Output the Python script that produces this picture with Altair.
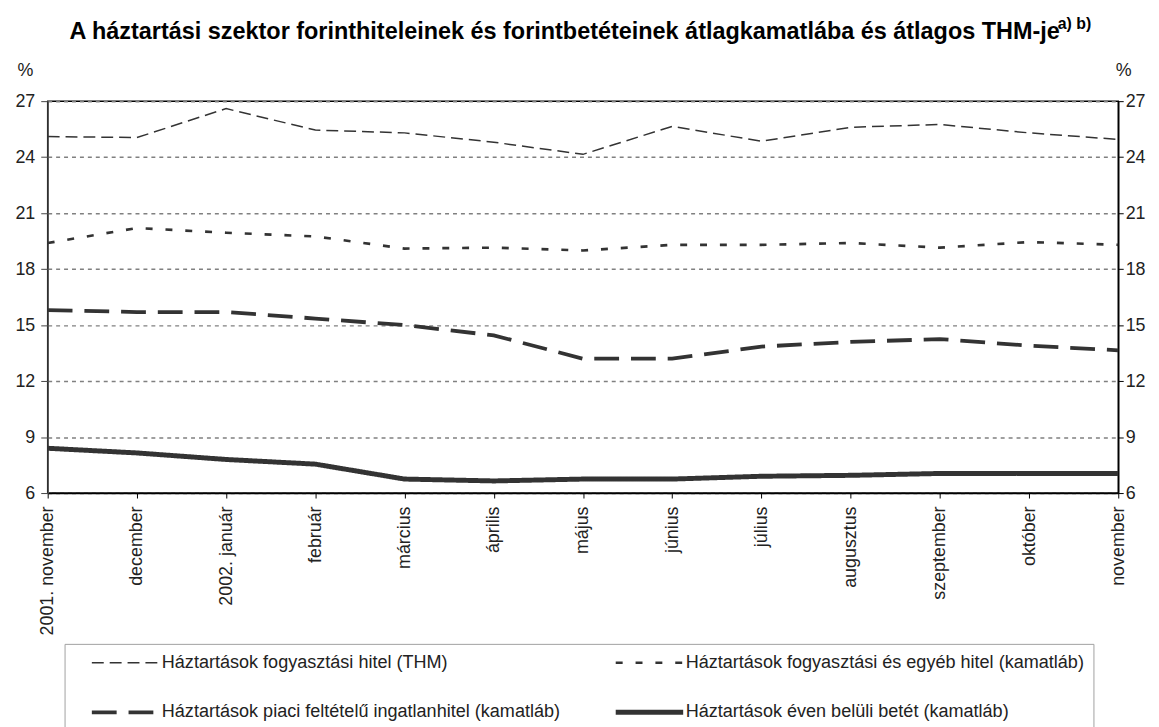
import altair as alt
import pandas as pd

months = ["2001. november", "december", "2002. január", "február", "március",
          "április", "május", "június", "július", "augusztus", "szeptember",
          "október", "november"]

series_names = [
    "Háztartások fogyasztási hitel (THM)",
    "Háztartások fogyasztási és egyéb hitel (kamatláb)",
    "Háztartások piaci feltételű ingatlanhitel (kamatláb)",
    "Háztartások éven belüli betét (kamatláb)",
]

thm = [25.1, 25.05, 26.6, 25.45, 25.3, 24.8, 24.15, 25.65, 24.85, 25.6, 25.75, 25.3, 24.95]
consumer = [19.4, 20.2, 19.95, 19.75, 19.1, 19.15, 19.0, 19.3, 19.3, 19.4, 19.15, 19.45, 19.3]
mortgage = [15.8, 15.7, 15.7, 15.35, 15.0, 14.45, 13.2, 13.2, 13.85, 14.1, 14.25, 13.9, 13.65]
deposit = [8.4, 8.15, 7.8, 7.55, 6.75, 6.65, 6.75, 6.75, 6.9, 6.95, 7.05, 7.05, 7.05]

y_ticks = [6, 9, 12, 15, 18, 21, 24, 27]

title_text = ["A háztartási szektor forinthiteleinek és forintbetéteinek "
              "átlagkamatlába és átlagos THM-je"]
title_sup = ["a) b)"]

rows = []
for name, vals in zip(series_names, [thm, consumer, mortgage, deposit]):
    for m, v in zip(months, vals):
        rows.append({"honap": m, "ertek": v, "sorozat": name})
df = pd.DataFrame(rows)

FONT = "Liberation Sans"
dashes = [[12, 6], [7, 13], [25, 12], [1, 0]]
widths = [1.5, 5, 4.5, 3.5]

y_scale = alt.Scale(domain=[6, 27], nice=False, zero=False)

legend_cfg = dict(
    title=None, orient="none", legendX=17, legendY=547, columns=2,
    columnPadding=37, rowPadding=30, symbolType="stroke", symbolSize=4624,
    clipHeight=20, symbolOffset=16,
    labelFontSize=18.2, labelFont=FONT, labelColor="#222", labelLimit=700,
    strokeColor="#a0a0a0", padding=9, symbolStrokeColor="#333333",
    labelOffset=0, fillColor="white", direction="horizontal",
)

x_axis = alt.Axis(title=None, labelAngle=-90, labelFontSize=18, labelFont=FONT,
                  labelColor="#222", tickSize=5, tickColor="#000",
                  domainColor="#000", domainWidth=1.5, labelPadding=8, grid=False)

lines = alt.Chart(df).mark_line(color="#333333").encode(
    x=alt.X("honap:N", sort=months, scale=alt.Scale(padding=0), axis=x_axis),
    y=alt.Y("ertek:Q", scale=y_scale,
            axis=alt.Axis(values=y_ticks, title="%", titleAngle=0, titleAnchor="end",
                          titleX=-15, titleY=-22, titleFontWeight="normal",
                          titleFontSize=18, titleFont=FONT, titleColor="#222",
                          grid=True, gridDash=[4, 4], gridColor="#808080", gridWidth=1.5,
                          labelFontSize=18, labelFont=FONT, labelColor="#222",
                          tickSize=7, tickColor="#444", domainColor="#555",
                          domainWidth=1.5, labelPadding=6)),
    strokeDash=alt.StrokeDash("sorozat:N", sort=series_names,
                              scale=alt.Scale(domain=series_names, range=dashes),
                              legend=alt.Legend(**legend_cfg)),
    strokeWidth=alt.StrokeWidth("sorozat:N", sort=series_names,
                                scale=alt.Scale(domain=series_names, range=widths),
                                legend=alt.Legend(**legend_cfg)),
)

right = alt.Chart(df).mark_line(opacity=0).encode(
    x=alt.X("honap:N", sort=months, scale=alt.Scale(padding=0), axis=x_axis),
    y=alt.Y("ertek:Q", scale=y_scale,
            axis=alt.Axis(orient="right", values=y_ticks, title="%", titleAngle=0,
                          titleAnchor="end", titleX=13, titleY=-22,
                          titleFontWeight="normal", titleFontSize=18, titleFont=FONT,
                          titleColor="#222", grid=False,
                          labelFontSize=18, labelFont=FONT, labelColor="#222",
                          tickSize=5, tickColor="#000", domainColor="#000",
                          domainWidth=1.5, labelPadding=2)),
    detail="sorozat:N",
)

title = alt.Chart(pd.DataFrame({"t": title_text})).mark_text(
    font=FONT, fontSize=23.6, fontWeight="bold", align="center", baseline="middle",
    color="#000",
).encode(x=alt.value(521), y=alt.value(-70), text="t:N")

sup = alt.Chart(pd.DataFrame({"t": title_sup})).mark_text(
    font=FONT, fontSize=16, fontWeight="bold", align="left", baseline="middle",
    color="#000",
).encode(x=alt.value(1018), y=alt.value(-78), text="t:N")

chart = alt.layer(lines, right, title, sup).resolve_scale(y="independent").properties(
    width=1079, height=395,
    padding={"left": 6, "top": 5, "right": 5, "bottom": 5},
).configure(font=FONT).configure_view(stroke="#000", strokeWidth=1.5)

chart.save("out.html", embed_options={"renderer": "svg", "actions": False})
